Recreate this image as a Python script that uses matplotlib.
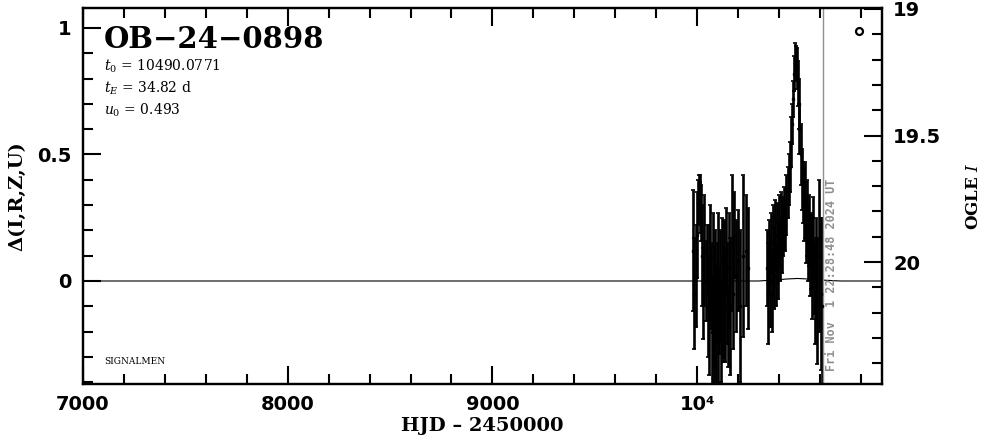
import matplotlib
matplotlib.use("Agg")
from matplotlib import pyplot as plt
from matplotlib.ticker import MultipleLocator, FixedLocator
import matplotlib.transforms as mtransforms

plt.rcParams['mathtext.fontset'] = 'dejavuserif'

# Event info
event_name = "OB\u221224\u22120898"
param_lines = [r"$t_0$ = 10490.0771", r"$t_E$ = 34.82 d", r"$u_0$ = 0.493"]
now_hjd = 10616.45
now_text = "Fri Nov  1 22:28:48 2024 UT"
baseline_mag = 20.075

# First season (HJD - 2450000, delta mag, error)
t1 = [9982, 9987, 9993, 9998, 10004, 10008, 10012, 10016, 10020, 10024,
      10030, 10036, 10042, 10047, 10052, 10056, 10060, 10064, 10068, 10072,
      10076, 10080, 10084, 10088, 10092, 10096, 10100, 10104, 10108, 10112,
      10116, 10120, 10124, 10128, 10132, 10136, 10140, 10145, 10150, 10156,
      10162, 10168, 10175, 10182, 10190, 10198, 10210, 10225, 10240, 10248]
d1 = [0.12, -0.05, 0.02, 0.18, 0.31, 0.34, 0.29, 0.33, 0.27, 0.10,
      -0.05, 0.12, 0.00, 0.08, -0.10, 0.05, -0.15, 0.08, -0.02, -0.20,
      0.10, -0.10, -0.25, 0.02, -0.18, -0.05, -0.28, 0.05, -0.12, -0.02,
      -0.20, 0.08, -0.08, -0.15, 0.04, -0.10, 0.12, -0.05, -0.18, 0.05,
      -0.10, 0.15, -0.05, 0.18, 0.02, 0.08, -0.10, 0.10, 0.12, 0.05]
e1 = [0.24, 0.22, 0.20, 0.17, 0.09, 0.08, 0.10, 0.09, 0.11, 0.20,
      0.18, 0.22, 0.16, 0.14, 0.20, 0.17, 0.22, 0.22, 0.17, 0.22,
      0.17, 0.24, 0.20, 0.18, 0.24, 0.20, 0.17, 0.22, 0.17, 0.22,
      0.20, 0.17, 0.22, 0.17, 0.20, 0.22, 0.17, 0.20, 0.16, 0.22,
      0.27, 0.27, 0.22, 0.17, 0.22, 0.20, 0.30, 0.32, 0.22, 0.24]

# Second season
t2 = [10340, 10345, 10350, 10355, 10360, 10365, 10370, 10375, 10380, 10385,
      10390, 10395, 10400, 10405, 10410, 10415, 10420, 10425, 10430, 10436,
      10442, 10448, 10454, 10460, 10465, 10470, 10475, 10480, 10484, 10488,
      10492, 10496, 10500, 10505, 10510, 10515, 10520, 10525, 10530, 10535,
      10540, 10545, 10550, 10555, 10560, 10565, 10570, 10575, 10580, 10588,
      10596, 10605, 10612]
d2 = [0.05, -0.05, 0.10, 0.00, 0.15, -0.05, 0.12, 0.05, 0.18, 0.02,
      0.15, 0.08, 0.20, 0.12, 0.22, 0.18, 0.20, 0.25, 0.22, 0.30,
      0.35, 0.40, 0.45, 0.55, 0.62, 0.72, 0.82, 0.88, 0.86, 0.84,
      0.78, 0.70, 0.60, 0.50, 0.40, 0.35, 0.30, 0.32, 0.20, 0.25,
      0.15, 0.20, 0.10, 0.12, 0.05, 0.15, 0.02, -0.05, 0.05, -0.08,
      0.10, -0.05, -0.10]
e2 = [0.15, 0.20, 0.14, 0.18, 0.12, 0.15, 0.18, 0.16, 0.14, 0.12,
      0.16, 0.15, 0.14, 0.12, 0.13, 0.15, 0.10, 0.12, 0.10, 0.12,
      0.10, 0.10, 0.10, 0.10, 0.08, 0.07, 0.07, 0.06, 0.07, 0.08,
      0.09, 0.10, 0.10, 0.12, 0.12, 0.12, 0.14, 0.15, 0.13, 0.15,
      0.15, 0.14, 0.16, 0.15, 0.20, 0.18, 0.15, 0.20, 0.20, 0.25,
      0.30, 0.30, 0.35]

# Model curve (nearly flat, blended)
model_t = [7000, 10300, 10380, 10440, 10490, 10540, 10600, 10700, 10900]
model_d = [0.0, 0.0, 0.004, 0.008, 0.010, 0.008, 0.004, 0.0, 0.0]

# Legend symbol position for OGLE
legend_x, legend_y = 10791, 0.99

fig = plt.figure(figsize=(9.86, 4.41), dpi=100)
ax = fig.add_axes([0.0842, 0.1293, 0.8103, 0.8526])

ax.plot(model_t, model_d, color='black', lw=0.8)
ax.errorbar(t1, d1, yerr=e1, fmt='s', ms=1.5, color='black', ecolor='black',
            elinewidth=1.9, capsize=1.5, capthick=1.2)
ax.errorbar(t2, d2, yerr=e2, fmt='s', ms=1.5, color='black', ecolor='black',
            elinewidth=1.9, capsize=1.5, capthick=1.2)
ax.plot([legend_x], [legend_y], 'o', mfc='none', mec='black', ms=5, mew=1.6)

ax.axvline(now_hjd, color='#909090', lw=1)
trans = mtransforms.blended_transform_factory(ax.transData, ax.transAxes)
ax.text(10654, 0.035, now_text, transform=trans, rotation=90, ha='center', va='bottom',
        color='#909090', fontsize=8.5, family='DejaVu Sans Mono', fontweight='bold')

ax.set_xlim(7000, 10903)
ax.set_ylim(-0.407, 1.079)

# Labels inside the panel
ax.text(0.026, 0.955, event_name, transform=ax.transAxes, fontsize=21,
        family='DejaVu Serif', fontweight='bold', va='top', ha='left')
for i, line in enumerate(param_lines):
    ax.text(0.026, 0.845 - i * 0.058, line, transform=ax.transAxes, fontsize=10,
            family='DejaVu Serif', va='center', ha='left')
ax.text(0.027, 0.06, "SIGNALMEN", transform=ax.transAxes, fontsize=6.5,
        family='DejaVu Serif', va='center', ha='left')

# Ticks
ax.xaxis.set_major_locator(FixedLocator([7000, 8000, 9000, 10000]))
ax.set_xticklabels(['7000', '8000', '9000', '10\u2074'])
ax.xaxis.set_minor_locator(MultipleLocator(200))
ax.yaxis.set_major_locator(FixedLocator([0, 0.5, 1]))
ax.set_yticklabels(['0', '0.5', '1'])
ax.yaxis.set_minor_locator(MultipleLocator(0.1))
ax.tick_params(which='both', direction='in', top=True, right=False, width=1.5)
ax.tick_params(which='major', length=13, labelsize=14, pad=8)
ax.tick_params(which='minor', length=7)
for lab in ax.get_xticklabels() + ax.get_yticklabels():
    lab.set_fontweight('bold')

for sp in ax.spines.values():
    sp.set_linewidth(1.6)

ax.set_xlabel("HJD \u2013 2450000", fontsize=14, family='DejaVu Serif', fontweight='bold', labelpad=2)
ax.set_ylabel("\u0394(I,R,Z,U)", fontsize=14, family='DejaVu Serif', fontweight='bold', labelpad=8)

# Right axis: OGLE I magnitude
ax2 = ax.twinx()
ax2.set_ylim(baseline_mag - (-0.407), baseline_mag - 1.079)
ax2.yaxis.set_major_locator(FixedLocator([19, 19.5, 20]))
ax2.set_yticklabels(['19', '19.5', '20'])
ax2.yaxis.set_minor_locator(MultipleLocator(0.1))
ax2.tick_params(which='both', direction='in', width=1.5)
ax2.tick_params(which='major', length=13, labelsize=14, pad=8)
ax2.tick_params(which='minor', length=7)
for lab in ax2.get_yticklabels():
    lab.set_fontweight('bold')
for sp in ax2.spines.values():
    sp.set_linewidth(1.6)
ax2.set_ylabel(r"OGLE $\mathit{I}$", fontsize=12, family='DejaVu Serif', fontweight='bold',
               rotation=90, labelpad=17)

fig.savefig("out.png", dpi=100)
